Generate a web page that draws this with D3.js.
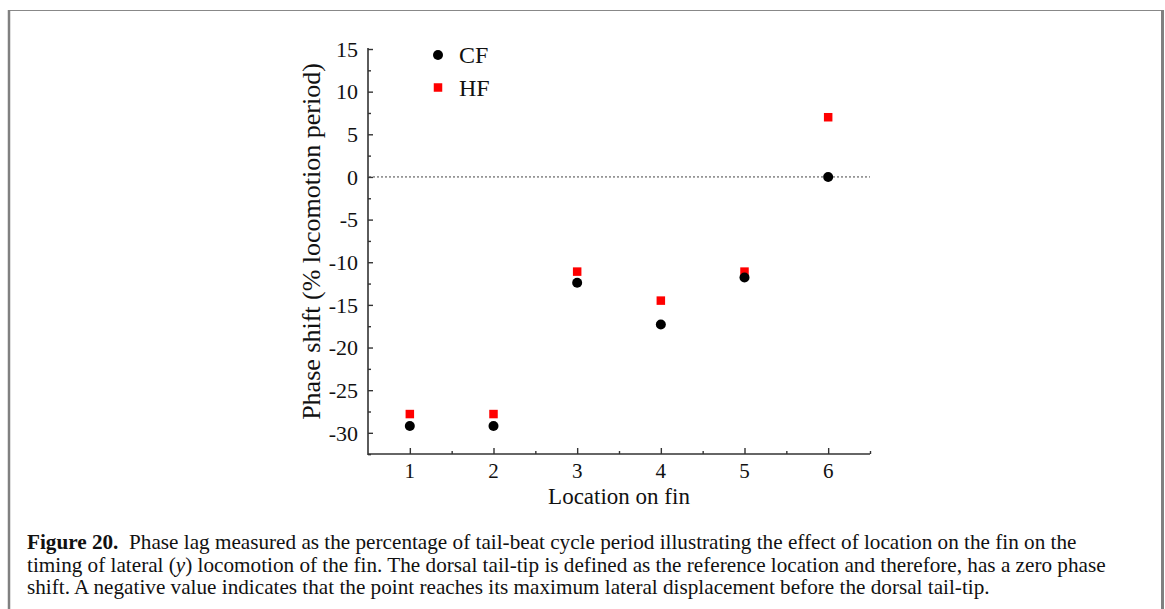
<!DOCTYPE html>
<html><head><meta charset="utf-8">
<script src="https://cdn.jsdelivr.net/npm/d3@7"></script>
<style>
html,body{margin:0;padding:0;background:#fff;}
svg{display:block;}
text{font-family:"Liberation Serif","Times New Roman",serif;fill:#111;}
</style></head>
<body>
<script>
const locations = [1, 2, 3, 4, 5, 6];
const cfValues = [-29.2, -29.2, -12.4, -17.3, -11.8, 0.0];
const hfValues = [-27.8, -27.8, -11.1, -14.5, -11.1, 7.0];
const yTickValues = [15, 10, 5, 0, -5, -10, -15, -20, -25, -30];
const xTickValues = [1, 2, 3, 4, 5, 6];
const seriesNames = ["CF", "HF"];
const xTitle = "Location on fin";
const yTitle = "Phase shift (% locomotion period)";
const captionLines = [
  ["Figure 20.", "  Phase lag measured as the percentage of tail-beat cycle period illustrating the effect of location on the fin on the"],
  ["", "timing of lateral (", "y", ") locomotion of the fin. The dorsal tail-tip is defined as the reference location and therefore, has a zero phase"],
  ["", "shift. A negative value indicates that the point reaches its maximum lateral displacement before the dorsal tail-tip."]
];

const W = 1165, H = 609;
const svg = d3.select("body").append("svg").attr("width", W).attr("height", H);

// frame
svg.append("line").attr("x1", 9).attr("x2", 1163).attr("y1", 10.5).attr("y2", 10.5).attr("stroke", "#888").attr("stroke-width", 1.2);
svg.append("line").attr("x1", 9).attr("x2", 9).attr("y1", 10).attr("y2", H).attr("stroke", "#808080").attr("stroke-width", 2.5);
svg.append("line").attr("x1", 1162.5).attr("x2", 1162.5).attr("y1", 10).attr("y2", H).attr("stroke", "#808080").attr("stroke-width", 3);

const x = d3.scaleLinear().domain([0.5, 6.5]).range([368, 870]);
const y = d3.scaleLinear().domain([-32.6, 15]).range([455, 49]);

const axisColor = "#333";

// y axis (ticks inward)
const yAxis = svg.append("g").attr("transform", "translate(368,0)")
  .call(d3.axisRight(y).tickValues(yTickValues).tickSize(5).tickFormat(""));
const yMinor = svg.append("g").attr("transform", "translate(368,0)")
  .call(d3.axisRight(y).tickValues(d3.range(-32.5, 15, 2.5).filter(v => Math.abs(v % 5) > 0.01)).tickSize(3).tickFormat(""));
[yAxis, yMinor].forEach(g => {
  g.select(".domain").attr("stroke", axisColor).attr("stroke-width", 1.6).attr("d", `M0,${y(15)-1}V${y.range()[0]}`);
  g.selectAll(".tick line").attr("stroke", axisColor).attr("stroke-width", 1.4);
});
yMinor.select(".domain").remove();
svg.append("g").selectAll("text").data(yTickValues).join("text")
  .attr("x", 358).attr("y", d => y(d)).attr("dy", "0.35em")
  .attr("text-anchor", "end").style("font-size", "22px")
  .text(d => d < 0 ? "-" + Math.abs(d) : String(d));

// x axis (ticks inward)
const xAxis = svg.append("g").attr("transform", "translate(0,454)")
  .call(d3.axisTop(x).tickValues(xTickValues).tickSize(6).tickFormat(""));
const xMinor = svg.append("g").attr("transform", "translate(0,454)")
  .call(d3.axisTop(x).tickValues([1.5, 2.5, 3.5, 4.5, 5.5, 6.5]).tickSize(3).tickFormat(""));
[xAxis, xMinor].forEach(g => {
  g.select(".domain").attr("stroke", axisColor).attr("stroke-width", 1.6).attr("d", `M${x.range()[0]},0H${x.range()[1]}`);
  g.selectAll(".tick line").attr("stroke", axisColor).attr("stroke-width", 1.4);
});
xMinor.select(".domain").remove();
svg.append("g").selectAll("text").data(xTickValues).join("text")
  .attr("x", d => x(d)).attr("y", 478).attr("text-anchor", "middle").style("font-size", "21px")
  .text(d => d);

// titles
svg.append("text").attr("x", 619).attr("y", 504).attr("text-anchor", "middle").style("font-size", "23px").text(xTitle);
svg.append("text").attr("transform", `translate(320,${(421+62)/2}) rotate(-90)`).attr("text-anchor", "middle")
  .style("font-size", "26px").text(yTitle);

// zero reference line
svg.append("line").attr("x1", x(0.5) + 1).attr("x2", x(6.5)).attr("y1", y(0)).attr("y2", y(0))
  .attr("stroke", "#444").attr("stroke-width", 1).attr("stroke-dasharray", "2,2");

// data
const cfData = locations.map((l, i) => ({x: l, y: cfValues[i]}));
const hfData = locations.map((l, i) => ({x: l, y: hfValues[i]}));
const sq = 8.5;
svg.append("g").selectAll("rect").data(hfData).join("rect")
  .attr("x", d => x(d.x) - sq/2).attr("y", d => y(d.y) - sq/2).attr("width", sq).attr("height", sq).attr("fill", "#f00");
svg.append("g").selectAll("circle").data(cfData).join("circle")
  .attr("cx", d => x(d.x)).attr("cy", d => y(d.y)).attr("r", 5).attr("fill", "#000");

// legend
const leg = svg.append("g");
leg.append("circle").attr("cx", 438).attr("cy", 55).attr("r", 5).attr("fill", "#000");
leg.append("rect").attr("x", 438 - sq/2).attr("y", 87.5 - sq/2).attr("width", sq).attr("height", sq).attr("fill", "#f00");
leg.append("text").attr("x", 459).attr("y", 63).style("font-size", "24px").text(seriesNames[0]);
leg.append("text").attr("x", 459).attr("y", 96).style("font-size", "24px").text(seriesNames[1]);

// caption
const cap = svg.append("g");
const baselines = [549, 571.5, 594];
captionLines.forEach((parts, i) => {
  const t = cap.append("text").attr("x", 27).attr("y", baselines[i]).style("font-size", "21.2px").attr("xml:space", "preserve");
  parts.forEach((p, j) => {
    if (!p) return;
    const ts = t.append("tspan").text(p);
    if (i === 0 && j === 0) ts.style("font-weight", "bold");
    if (i === 1 && j === 2) ts.style("font-style", "italic");
  });
});
</script>
</body></html>
